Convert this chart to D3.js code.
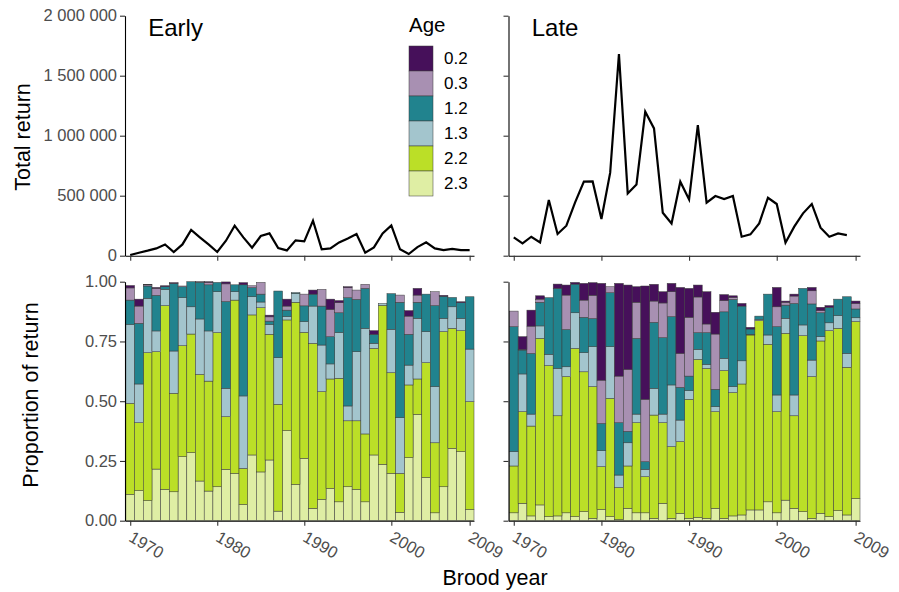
<!DOCTYPE html>
<html>
<head>
<meta charset="utf-8">
<script src="https://cdn.jsdelivr.net/npm/d3@7"></script>
<style>
  body { margin: 0; background: #fff; }
  text { font-family: "Liberation Sans", Arial, sans-serif; }
</style>
</head>
<body>
<svg id="chart" width="899" height="592"></svg>
<script>
// ---- data ----
const years = [1970,1971,1972,1973,1974,1975,1976,1977,1978,1979,
               1980,1981,1982,1983,1984,1985,1986,1987,1988,1989,
               1990,1991,1992,1993,1994,1995,1996,1997,1998,1999,
               2000,2001,2002,2003,2004,2005,2006,2007,2008,2009];
const lateYears = years.slice(0, 39); // late total line stops at 2008

const ages = ["0.2", "0.3", "1.2", "1.3", "2.2", "2.3"];
const ageColors = ["#46105a", "#a890b2", "#21838e", "#a3c5cd", "#bbdf27", "#dfeea4"];
const stackOrder = ["2.3", "2.2", "1.3", "1.2", "0.3", "0.2"];

const earlyTotal = [6000,25000,42000,61000,94000,31000,94000,214000,153000,94000,
                    31000,125000,250000,153000,67000,164000,186000,64000,44000,128000,
                    119000,292000,53000,61000,111000,144000,181000,25000,69000,186000,
                    253000,53000,14000,72000,111000,61000,47000,56000,47000,47000];
const lateTotal = [153000,103000,158000,111000,464000,181000,250000,444000,617000,619000,
                   306000,692000,1681000,519000,594000,1200000,1061000,358000,269000,617000,
                   469000,1089000,442000,497000,472000,497000,158000,178000,269000,483000,
                   431000,108000,242000,353000,431000,233000,158000,186000,172000];

// proportions by age, early run
const early23 = [0.110,0.126,0.084,0.216,0.131,0.121,0.268,0.285,0.166,0.124,0.142,0.215,0.198,0.068,0.275,0.204,0.254,0.040,0.377,0.152,
                 0.261,0.052,0.089,0.135,0.079,0.142,0.131,0.079,0.275,0.236,0.198,0.035,0.264,0.445,0.181,0.033,0.142,0.303,0.289,0.047];
const early22 = [0.381,0.284,0.619,0.491,0.769,0.412,0.464,0.496,0.446,0.460,0.645,0.220,0.725,0.151,0.586,0.687,0.526,0.447,0.463,0.762,
                 0.527,0.690,0.451,0.458,0.517,0.276,0.287,0.284,0.446,0.665,0.421,0.163,0.304,0.148,0.480,0.293,0.649,0.502,0.506,0.451];
const early13 = [0.330,0.162,0.227,0.087,0.068,0.177,0.201,0.114,0.232,0.210,0.171,0.119,0.035,0.303,0.076,0.024,0.041,0.195,0.014,0.037,
                 0.045,0.156,0.195,0.063,0.191,0.062,0.289,0.442,0.021,0.008,0.182,0.233,0.083,0.254,0.130,0.235,0.056,0.090,0.052,0.220];
const early12 = [0.102,0.254,0.052,0.149,0.011,0.283,0.046,0.105,0.154,0.193,0.039,0.363,0.029,0.465,0.038,0.033,0.014,0.279,0.027,0.003,
                 0.066,0.050,0.163,0.114,0.083,0.453,0.219,0.167,0.038,0.000,0.149,0.483,0.129,0.067,0.157,0.339,0.092,0.039,0.065,0.219];
const early03 = [0.051,0.072,0.005,0.029,0.000,0.000,0.003,0.000,0.002,0.010,0.000,0.074,0.000,0.000,0.008,0.049,0.018,0.000,0.017,0.000,
                 0.049,0.000,0.070,0.114,0.042,0.042,0.039,0.017,0.000,0.000,0.000,0.030,0.076,0.030,0.000,0.058,0.000,0.000,0.000,0.000];
const early02 = [0.010,0.029,0.002,0.004,0.004,0.003,0.000,0.000,0.000,0.003,0.000,0.008,0.000,0.009,0.000,0.000,0.007,0.000,0.029,0.000,
                 0.000,0.017,0.000,0.043,0.009,0.004,0.000,0.000,0.015,0.000,0.000,0.000,0.023,0.028,0.000,0.000,0.004,0.000,0.004,0.000];

// proportions by age, late run
const late23 = [0.033,0.073,0.020,0.066,0.017,0.020,0.033,0.017,0.038,0.010,0.047,0.017,0.005,0.052,0.033,0.033,0.010,0.073,0.010,0.031,
                0.010,0.014,0.010,0.052,0.010,0.020,0.024,0.045,0.045,0.079,0.033,0.086,0.052,0.038,0.010,0.031,0.017,0.042,0.024,0.093];
const late22 = [0.196,0.383,0.376,0.697,0.632,0.419,0.570,0.704,0.585,0.551,0.179,0.495,0.134,0.177,0.377,0.151,0.432,0.337,0.300,0.300,
                0.498,0.661,0.627,0.404,0.618,0.516,0.548,0.732,0.792,0.659,0.423,0.698,0.387,0.736,0.593,0.721,0.778,0.763,0.618,0.740];
const late13 = [0.060,0.158,0.050,0.052,0.047,0.198,0.041,0.149,0.080,0.167,0.067,0.216,0.052,0.097,0.036,0.031,0.112,0.036,0.258,0.090,
                0.036,0.042,0.017,0.021,0.051,0.025,0.097,0.003,0.005,0.039,0.070,0.063,0.087,0.045,0.069,0.018,0.033,0.053,0.058,0.016];
const late12 = [0.523,0.100,0.254,0.099,0.237,0.335,0.156,0.120,0.148,0.118,0.114,0.226,0.219,0.048,0.317,0.032,0.276,0.320,0.286,0.137,
                0.061,0.070,0.133,0.073,0.195,0.365,0.229,0.022,0.014,0.171,0.286,0.055,0.383,0.153,0.235,0.100,0.065,0.069,0.237,0.037];
const late03 = [0.065,0.003,0.114,0.013,0.000,0.000,0.144,0.000,0.072,0.097,0.181,0.025,0.195,0.259,0.151,0.261,0.089,0.145,0.104,0.142,
                0.246,0.149,0.036,0.231,0.047,0.008,0.000,0.000,0.000,0.000,0.083,0.012,0.031,0.000,0.055,0.009,0.000,0.000,0.000,0.023];
const late02 = [0.000,0.053,0.067,0.014,0.000,0.018,0.042,0.007,0.070,0.053,0.405,0.000,0.388,0.353,0.065,0.474,0.070,0.047,0.035,0.276,
                0.121,0.050,0.135,0.091,0.025,0.007,0.011,0.007,0.000,0.000,0.081,0.005,0.008,0.000,0.014,0.014,0.007,0.000,0.000,0.010];

// ---- build tables ----
function makeRows(a02, a03, a12, a13, a22, a23) {
  return years.map((y, i) => ({
    year: y, "0.2": a02[i], "0.3": a03[i], "1.2": a12[i],
    "1.3": a13[i], "2.2": a22[i], "2.3": a23[i]
  }));
}
const earlyRows = makeRows(early02, early03, early12, early13, early22, early23);
const lateRows = makeRows(late02, late03, late12, late13, late22, late23);

const color = d3.scaleOrdinal().domain(ages).range(ageColors);
const svg = d3.select("#chart");

const fmtBig = d3.formatLocale({decimal: ".", thousands: " ", grouping: [3], currency: ["", ""]}).format(",d");
const tickYears = [1970, 1980, 1990, 2000, 2009];

const yTop = d3.scaleLinear().domain([0, 2000000]).range([255.7, 15.7]);
const yBot = d3.scaleLinear().domain([0, 1]).range([520.7, 281.7]);

const panels = [
  {name: "Early", rows: earlyRows, total: earlyTotal, tYears: years, x0: 125, x1: 474, labels: true},
  {name: "Late", rows: lateRows, total: lateTotal, tYears: lateYears, x0: 508.5, x1: 860, labels: false}
];

const stack = d3.stack().keys(stackOrder);

function styleAxis(g) {
  g.select(".domain").attr("stroke", "#000").attr("stroke-width", 1.1);
  g.selectAll(".tick line").attr("stroke", "#333").attr("stroke-width", 1.1);
  g.selectAll(".tick text").attr("fill", "#4d4d4d").style("font-size", "16.5px");
}

panels.forEach(p => {
  const x = d3.scaleLinear().domain([1969.4, 2009.5]).range([p.x0, p.x1]);
  const bw = x(1971) - x(1970);

  // top: total return line
  const line = d3.line().x(d => x(d[0])).y(d => yTop(d[1]));
  svg.append("path")
    .datum(p.tYears.map((y, i) => [y, p.total[i]]))
    .attr("fill", "none")
    .attr("stroke", "#000")
    .attr("stroke-width", 2.2)
    .attr("d", line);

  // bottom: stacked proportions
  const series = stack(p.rows);
  svg.append("g").selectAll("g")
    .data(series)
    .join("g")
      .attr("fill", d => color(d.key))
    .selectAll("rect")
    .data(d => d)
    .join("rect")
      .attr("x", d => x(d.data.year) - bw / 2)
      .attr("width", bw)
      .attr("y", d => yBot(d[1]))
      .attr("height", d => Math.max(0, yBot(d[0]) - yBot(d[1])))
      .attr("stroke", "#3a3a3a")
      .attr("stroke-width", 0.5);

  // axes
  const yAxTop = d3.axisLeft(yTop).tickValues([0, 500000, 1000000, 1500000, 2000000])
    .tickSize(5).tickSizeOuter(0).tickPadding(3)
    .tickFormat(p.labels ? fmtBig : "");
  svg.append("g").attr("transform", `translate(${p.x0},0)`).call(yAxTop).call(styleAxis);

  const yAxBot = d3.axisLeft(yBot).tickValues([0, 0.25, 0.5, 0.75, 1])
    .tickSize(5).tickSizeOuter(0).tickPadding(3)
    .tickFormat(p.labels ? d3.format(".2f") : "");
  svg.append("g").attr("transform", `translate(${p.x0},0)`).call(yAxBot).call(styleAxis);

  svg.append("g").attr("transform", `translate(0,${yTop(0)})`)
    .call(d3.axisBottom(x).tickValues(tickYears).tickSize(5).tickSizeOuter(0).tickFormat(""))
    .call(styleAxis);

  const xb = svg.append("g").attr("transform", `translate(0,${yBot(0)})`)
    .call(d3.axisBottom(x).tickValues(tickYears).tickSize(5).tickSizeOuter(0).tickFormat(d3.format("d")))
    .call(styleAxis);
  xb.selectAll(".tick text")
    .attr("text-anchor", "start")
    .attr("x", 0).attr("y", 23).attr("dy", 0)
    .attr("transform", "translate(8.5,0) rotate(30)");

  svg.append("text")
    .attr("x", x(1970) + 18).attr("y", 36)
    .style("font-size", "24px")
    .text(p.name);
});

// axis titles
svg.append("text")
  .attr("transform", "translate(30,137) rotate(-90)")
  .attr("text-anchor", "middle").style("font-size", "21.5px")
  .text("Total return");
svg.append("text")
  .attr("transform", "translate(38,395) rotate(-90)")
  .attr("text-anchor", "middle").style("font-size", "21.5px")
  .text("Proportion of return");
svg.append("text")
  .attr("x", 495).attr("y", 585)
  .attr("text-anchor", "middle").style("font-size", "21.5px")
  .text("Brood year");

// legend
const legend = svg.append("g").attr("transform", "translate(409,0)");
legend.append("text").attr("x", 0).attr("y", 32).style("font-size", "20.5px").text("Age");
legend.selectAll("rect")
  .data(ages)
  .join("rect")
    .attr("x", 0).attr("y", (d, i) => 46 + i * 25)
    .attr("width", 24).attr("height", 25)
    .attr("fill", d => color(d))
    .attr("stroke", "#3a3a3a").attr("stroke-width", 0.5);
legend.selectAll("text.lab")
  .data(ages)
  .join("text")
    .attr("class", "lab")
    .attr("x", 35).attr("y", (d, i) => 46 + i * 25 + 12.5)
    .attr("dy", "0.35em")
    .style("font-size", "17px")
    .text(d => d);
</script>
</body>
</html>
